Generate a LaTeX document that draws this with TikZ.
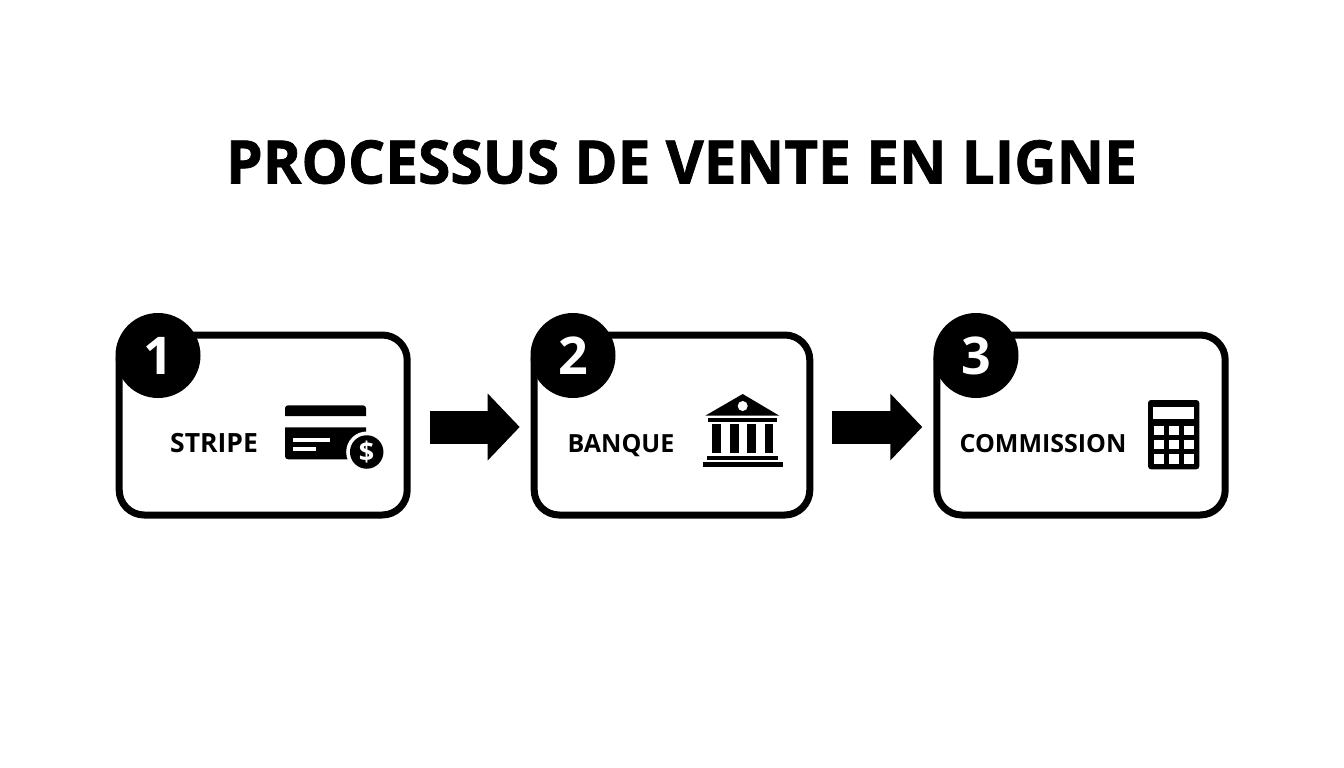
\documentclass[tikz,border=0pt]{standalone}
\usepackage{graphicx}
\usepackage{fontspec}
\setmainfont{Open Sans}
\newfontfamily\headfont[BoldFeatures={FakeBold=1.2}]{Open Sans}
\usetikzlibrary{arrows.meta}

\begin{document}
\begin{tikzpicture}
  [x=1pt, y=-1pt,
   card/.style={draw, line width=7pt, rounded corners=25pt, fill=white, minimum height=180pt},
   badge/.style={circle, fill=black, text=white, inner sep=0pt, minimum size=85pt, font=\fontsize{52}{52}\selectfont\bfseries},
   cardtext/.style={inner sep=0pt, anchor=base, font=\fontsize{25}{26}\selectfont\bfseries},
   flow/.style={line width=33pt, -{Triangle[length=32pt, width=65pt]}, shorten <=19pt, shorten >=11pt}]
  \useasboundingbox (0,0) rectangle (1344,768);

  \node [inner sep=0pt, anchor=base, font=\fontsize{60}{60}\selectfont\headfont\bfseries] (heading) at (681.5,183.5) {\scalebox{.976}[1]{PROCESSUS DE VENTE EN LIGNE}};

  \node [card, minimum width=288pt] (box1) at (263.2,425) {};
  \node [card, minimum width=275.6pt] (box2) at (672,425) {};
  \node [card, minimum width=288.4pt] (box3) at (1081,425) {};

  \node [badge] (num1) at (158,355.5) {1};
  \node [badge] (num2) at (573,355.5) {2};
  \node [badge] (num3) at (976,355.5) {3};

  \node [cardtext, font=\fontsize{26.5}{27}\selectfont\bfseries] (text1) at (214,452.5) {STRIPE};
  \node [cardtext] (text2) at (621,452.5) {BANQUE};
  \node [cardtext] (text3) at (1043,452.5) {COMMISSION};

  \draw [flow] ([yshift=-2pt]box1.east) -- ([yshift=-2pt]box2.west);
  \draw [flow] ([yshift=-2pt]box2.east) -- ([yshift=-2pt]box3.west);

  % card icon
  \fill (285,416) [rounded corners=3pt] -- (285,405.3) -- (366,405.3) [sharp corners] -- (366,416) -- cycle;
  \fill (285,427.3) -- (366,427.3) [rounded corners=3pt] -- (366,459.3) -- (285,459.3) [sharp corners] -- cycle;
  \fill [white] (293.3,438) rectangle (330,442);
  \fill [white] (293.3,447.3) rectangle (316,451);
  \fill [white] (366.7,452) circle (20.5);
  \node [circle, fill=black, text=white, inner sep=0pt, minimum size=33.5pt, font=\fontsize{27}{27}\selectfont\bfseries] (dollar) at (366.7,452) {\$};

  % bank icon
  \fill (742.7,394) -- (779.3,415.7) -- (705.3,415.7) -- cycle;
  \fill [white] (742.7,406) circle (5);
  \fill (708.3,417.7) rectangle (777.3,422.3);
  \foreach \colx in {712.3,730,747.3,764.7}
    \fill (\colx,424.3) rectangle (\colx+8.7,453.3);
  \fill (707.3,455.7) rectangle (778.3,460.3);
  \fill (702.7,462) rectangle (782.7,466.7);

  % calculator icon
  \fill [rounded corners=3pt] (1148,400) rectangle (1199.3,469.3);
  \fill [white] (1153.3,406.7) rectangle (1193.7,418.7);
  \foreach \keyx in {1154,1169,1183.7}
    \foreach \keyy in {425.7,440,454.3}
      \fill [white] (\keyx,\keyy) rectangle (\keyx+9.8,\keyy+9.4);
\end{tikzpicture}
\end{document}
